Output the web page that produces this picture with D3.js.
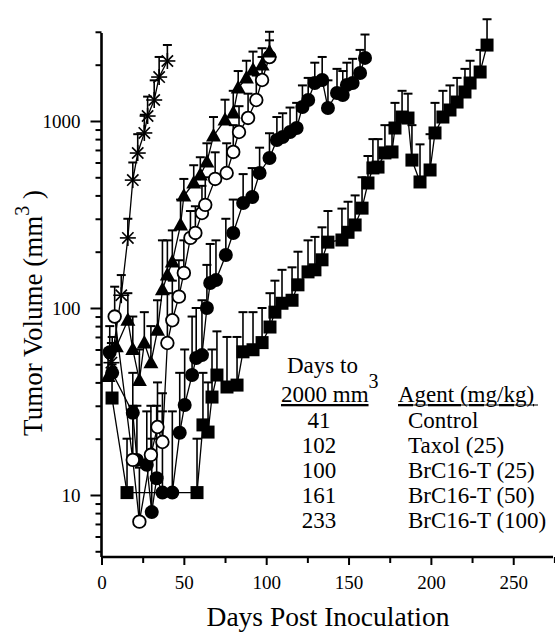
<!DOCTYPE html>
<html><head><meta charset="utf-8">
<script src="https://cdn.jsdelivr.net/npm/d3@7"></script>
<style>
body{margin:0;background:#fff}
svg{display:block}
text{font-family:"Liberation Serif","Times New Roman",serif;fill:#000}
</style>
</head><body>
<svg id="chart" width="555" height="635"></svg>
<script>
// ---------- DATA ----------
const controlDays  = [6, 12, 16, 19, 22, 26, 28, 32, 35, 40];
const controlVol   = [51, 117, 237, 483, 674, 863, 1063, 1295, 1718, 2094];
const controlUpper = [65, 150, 300, 600, 850, 1080, 1350, 1650, 2200, 2550];

const taxolDays  = [8, 19, 23, 30, 34, 37, 40, 43, 47, 50, 54, 57, 61, 63, 69, 76, 80, 83.5, 89, 94, 97.5, 102];
const taxolVol   = [90, 15.4, 7.2, 16.4, 23.1, 19.2, 65, 86, 115, 154, 237, 252, 322, 356, 490, 527, 683, 873, 1038, 1295, 1657, 2198];
const taxolUpper = [130, 30, 14, 30, 40, 35, 120, 140, 180, 230, 330, 350, 450, 500, 680, 760, 950, 1200, 1400, 1750, 2200, 2700];

const t25Days  = [4, 9, 16, 19, 23, 26, 30, 34, 37, 40, 43, 48, 50, 56, 60, 64, 68, 75, 80, 83, 88, 92, 97.5, 102];
const t25Vol   = [43, 62, 86, 60, 41, 65, 51, 76, 125, 150, 176, 278, 397, 466, 514, 604, 832, 1012, 1103, 1501, 1698, 1874, 1992, 2338];
const t25Upper = [60, 90, 120, 90, 60, 95, 80, 110, 230, 230, 260, 380, 490, 580, 640, 760, 1050, 1300, 1450, 1850, 2100, 2350, 2450, 3000];

const t50Days  = [5, 6.5, 19, 21.5, 27.5, 30.5, 33.5, 37, 43, 47.5, 50.5, 55, 57.5, 61, 64, 66, 69.5, 75.5, 80, 86, 91.5, 96, 102, 106.5, 110, 114.5, 118.5, 122, 125.5, 129.5, 134, 137.5, 143, 146.5, 149, 152.5, 157, 160];
const t50Vol   = [58, 45, 27.5, 15.4, 14.5, 8.1, 12.3, 10.3, 10.3, 21.5, 30.3, 43.8, 54, 56, 100, 136, 141, 192, 252, 364, 392, 527, 634, 791, 821, 873, 917, 1188, 1295, 1597, 1657, 1174, 1412, 1377, 1558, 1597, 1806, 2175];
const t50Upper = [80, 70, 45, 30, 28, 20, 30, 28, 28, 45, 60, 90, 100, 110, 170, 220, 230, 300, 380, 520, 560, 720, 860, 1050, 1100, 1180, 1250, 1550, 1700, 2050, 2200, 1650, 1900, 1850, 2050, 2150, 2400, 2900];

const t100Days  = [6.4, 15.5, 58, 61.6, 64.7, 67.1, 70.1, 76.2, 82.3, 85.9, 92, 97.5, 102.3, 105.3, 109.6, 115.7, 119.3, 125.4, 129.6, 133.9, 137.5, 146, 149.7, 154, 158.2, 161.8, 164.8, 167.9, 172.1, 176.4, 178.2, 182.5, 186.1, 188.5, 193.4, 199.5, 202.5, 207.3, 211.6, 215.9, 220.7, 223.8, 229.9, 234.1];
const t100Vol   = [33, 10.3, 10.3, 23.7, 21.7, 33.4, 43.8, 37.8, 38.7, 58.3, 59.8, 65.3, 79.1, 95, 106, 110, 133, 156, 160, 181, 225, 231, 254, 278, 342, 466, 561, 567, 675, 683, 917, 1050, 1037, 618, 472, 547, 863, 1050, 1145, 1263, 1429, 1596, 1828, 2547];
const t100Upper = [50, 20, 20, 45, 40, 60, 75, 70, 70, 95, 95, 100, 120, 140, 160, 165, 200, 230, 240, 270, 330, 340, 370, 400, 500, 650, 800, 800, 950, 950, 1250, 1450, 1400, 950, 750, 850, 1250, 1450, 1550, 1700, 1900, 2100, 2400, 3500];

const yMajorTicks = [10, 100, 1000];
const yMinorTicks = [5,6,7,8,9,20,30,40,50,60,70,80,90,200,300,400,500,600,700,800,900,2000,3000];
const xMajorTicks = [0, 50, 100, 150, 200, 250];
const xMinorTicks = [25, 75, 125, 175, 225, 275];

const legendDays   = ["41", "102", "100", "161", "233"];
const legendAgents = ["Control", "Taxol (25)", "BrC16-T (25)", "BrC16-T (50)", "BrC16-T (100)"];

// ---------- SCALES ----------
const svg = d3.select("#chart");
const x = d3.scaleLinear().domain([0, 275]).range([101.5, 554.4]);
const y = d3.scaleLog().domain([4.66, 2955]).range([557, 33]);

// ---------- AXES ----------
const yMaj = svg.append("g").attr("transform","translate(101.5,0)")
  .call(d3.axisLeft(y).tickValues(yMajorTicks).tickFormat(d3.format("d")).tickSize(11).tickPadding(10));
const yMin = svg.append("g").attr("transform","translate(101.5,0)")
  .call(d3.axisLeft(y).tickValues(yMinorTicks).tickFormat("").tickSize(6));
const xMaj = svg.append("g").attr("transform","translate(0,557)")
  .call(d3.axisBottom(x).tickValues(xMajorTicks).tickFormat(d3.format("d")).tickSize(8).tickPadding(11));
const xMin = svg.append("g").attr("transform","translate(0,557)")
  .call(d3.axisBottom(x).tickValues(xMinorTicks).tickFormat("").tickSize(6));
[yMaj,yMin,xMaj,xMin].forEach(g=>{
  g.selectAll("path.domain").attr("stroke","#000").attr("stroke-width",2.6);
  g.selectAll(".tick line").attr("stroke","#000").attr("stroke-width",2);
  g.selectAll(".tick text").style("font-size","19px").attr("font-family",null);
});
yMin.select("path.domain").remove(); xMin.select("path.domain").remove();
yMaj.select("path.domain").attr("d", `M0,${y(2955)}V557`);
xMaj.select("path.domain").attr("d", `M${x(0)},0H553`);

// Axis titles
svg.append("text").attr("x", 328).attr("y", 626).attr("text-anchor","middle")
  .style("font-size","27.5px").text("Days Post Inoculation");
const yt = svg.append("text").attr("transform","translate(42,313) rotate(-90)")
  .attr("text-anchor","middle").style("font-size","27px");
yt.append("tspan").text("Tumor Volume  (mm");
yt.append("tspan").attr("dy",-13).style("font-size","20px").text("3");
yt.append("tspan").attr("dy",13).text(" )");

// ---------- SERIES ----------
function series(days, vol, upper) {
  return days.map((d,i)=>({d, v: vol[i], u: upper[i]}));
}
const sets = [
  {key:"t100", data: series(t100Days, t100Vol, t100Upper), shape:"square"},
  {key:"t50",  data: series(t50Days, t50Vol, t50Upper), shape:"circleFilled"},
  {key:"taxol",data: series(taxolDays, taxolVol, taxolUpper), shape:"circleOpen"},
  {key:"t25",  data: series(t25Days, t25Vol, t25Upper), shape:"triangle"},
  {key:"ctrl", data: series(controlDays, controlVol, controlUpper), shape:"asterisk"}
];
const line = d3.line().x(p=>x(p.d)).y(p=>y(p.v));
const plot = svg.append("g");

// error bars
sets.forEach(s=>{
  const g = plot.append("g");
  s.data.forEach(p=>{
    const cx = x(p.d), y0 = y(p.v), y1 = y(p.u);
    g.append("line").attr("x1",cx).attr("x2",cx).attr("y1",y0).attr("y2",y1)
      .attr("stroke","#000").attr("stroke-width",1.6);
    g.append("line").attr("x1",cx-4.5).attr("x2",cx+4.5).attr("y1",y1).attr("y2",y1)
      .attr("stroke","#000").attr("stroke-width",2);
  });
});
// lines
sets.forEach(s=>{
  plot.append("path").datum(s.data).attr("d",line)
    .attr("fill","none").attr("stroke","#000").attr("stroke-width",1.3);
});
// markers
sets.forEach(s=>{
  const g = plot.append("g");
  s.data.forEach(p=>{
    const cx = x(p.d), cy = y(p.v);
    if (s.shape==="square") {
      g.append("rect").attr("x",cx-6.5).attr("y",cy-6.5).attr("width",13).attr("height",13).attr("fill","#000");
    } else if (s.shape==="circleFilled") {
      g.append("circle").attr("cx",cx).attr("cy",cy).attr("r",7).attr("fill","#000");
    } else if (s.shape==="circleOpen") {
      g.append("circle").attr("cx",cx).attr("cy",cy).attr("r",6.3).attr("fill","#fff").attr("stroke","#000").attr("stroke-width",1.8);
    } else if (s.shape==="triangle") {
      g.append("path").attr("d",`M${cx},${cy-8}L${cx+7.5},${cy+5.5}L${cx-7.5},${cy+5.5}Z`).attr("fill","#000");
    } else {
      const r = 8;
      for (let k=0;k<4;k++){
        const a = k*Math.PI/4;
        g.append("line").attr("x1",cx-r*Math.cos(a)).attr("y1",cy-r*Math.sin(a))
          .attr("x2",cx+r*Math.cos(a)).attr("y2",cy+r*Math.sin(a))
          .attr("stroke","#000").attr("stroke-width",1.6);
      }
    }
  });
});

// ---------- LEGEND TABLE ----------
const lg = svg.append("g").style("font-size","23px");
lg.append("text").attr("x",287).attr("y",373).text("Days to");
const h2 = lg.append("text").attr("x",281).attr("y",402);
h2.append("tspan").attr("text-decoration","underline").text("2000 mm");
h2.append("tspan").attr("dy",-14).style("font-size","20px").text("3");
lg.append("text").attr("x",398).attr("y",402).attr("text-decoration","underline").text("Agent (mg/kg)");
lg.append("line").attr("x1",281).attr("x2",368).attr("y1",405).attr("y2",405).attr("stroke","#000").attr("stroke-width",1.2);
lg.append("line").attr("x1",398).attr("x2",538).attr("y1",405).attr("y2",405).attr("stroke","#000").attr("stroke-width",1.2);
legendDays.forEach((t,i)=>{
  lg.append("text").attr("x",319).attr("y",428+25*i).attr("text-anchor","middle").text(t);
  lg.append("text").attr("x",408).attr("y",428+25*i).text(legendAgents[i]);
});
</script>
</body></html>
